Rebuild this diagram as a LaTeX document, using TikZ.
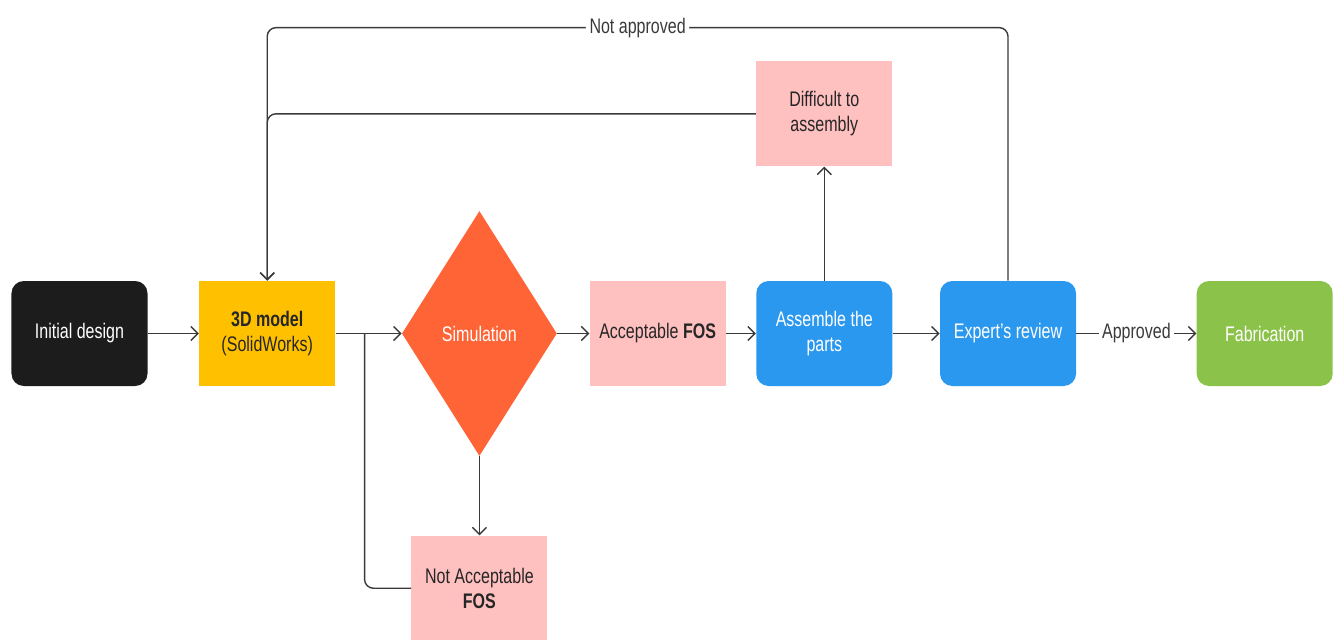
\documentclass[tikz,border=0pt]{standalone}
\usepackage{fontspec}
\setmainfont{Liberation Sans}[FakeStretch=0.76]
\usepackage{xcolor}
\usepackage{tikz}
\usetikzlibrary{positioning,shapes.geometric,arrows.meta}

\definecolor{darkbox}{HTML}{1C1C1C}
\definecolor{modelyellow}{HTML}{FFC000}
\definecolor{simorange}{HTML}{FF6437}
\definecolor{fospink}{HTML}{FFC0C0}
\definecolor{stepblue}{HTML}{2B98F0}
\definecolor{fabgreen}{HTML}{8BC34A}
\definecolor{linegray}{HTML}{3A3A3A}

\begin{document}
\begin{tikzpicture}[
  node distance=1cm and 1cm,
  box/.style={rectangle, minimum width=2.72cm, minimum height=2.1cm, align=center, inner sep=2pt, text=black!85},
  roundbox/.style={box, rounded corners=7pt},
  decision/.style={diamond, fill=simorange, text=white, minimum width=3.1cm, minimum height=4.9cm, inner sep=0pt},
  arrow/.style={-{Straight Barb[length=4pt,width=8pt]}, draw=linegray, line width=0.8pt},
  line/.style={draw=linegray, line width=0.8pt},
  edgelabel/.style={fill=white, text=linegray, inner sep=2pt},
  every node/.style={font=\fontsize{12}{14}\selectfont}
]
\useasboundingbox (0,0) rectangle (26.66,-12.78);

\node[roundbox, fill=darkbox, text=white] (init) at (1.59,-6.67) {Initial design};
\node[box, fill=modelyellow, right=1.02cm of init] (model) {\textbf{3D model}\\(SolidWorks)};
\node[decision, right=1.32cm of model] (sim) {Simulation};
\node[box, fill=fospink, right=0.64cm of sim] (accfos) {Acceptable \textbf{FOS}};
\node[roundbox, fill=stepblue, text=white, right=0.6cm of accfos] (assemble) {Assemble the\\parts};
\node[roundbox, fill=stepblue, text=white, right=0.94cm of assemble] (review) {Expert's review};
\node[roundbox, fill=fabgreen, text=white, right=2.4cm of review] (fab) {Fabrication};

\node[box, fill=fospink, above=2.28cm of assemble] (difficult) {Difficult to\\assembly};
\node[box, fill=fospink, below=1.58cm of sim] (notacc) {Not Acceptable\\\textbf{FOS}};

% loop points
\coordinate[right=0.58cm of model.east] (merge);
\coordinate[above=5.06cm of review.north] (top);

% Arrows
\draw[arrow] (init) -- (model);
\draw[arrow] (model) -- (sim);
\draw[arrow] (sim) -- (accfos);
\draw[arrow] (accfos) -- (assemble);
\draw[arrow] (assemble) -- (review);
\draw[arrow] (review) -- node[edgelabel] {Approved} (fab);
\draw[arrow] (sim) -- (notacc);
\draw[arrow] (assemble) -- (difficult);

% Feedback
\draw[line, rounded corners=5pt] (notacc.west) -| (merge);
\draw[arrow, rounded corners=5pt] (difficult.west) -| (model.north);
\draw[arrow, rounded corners=5pt] (review.north) |- node[edgelabel, pos=0.75] {Not approved} (top -| model.north) -- (model.north);

\end{tikzpicture}
\end{document}
